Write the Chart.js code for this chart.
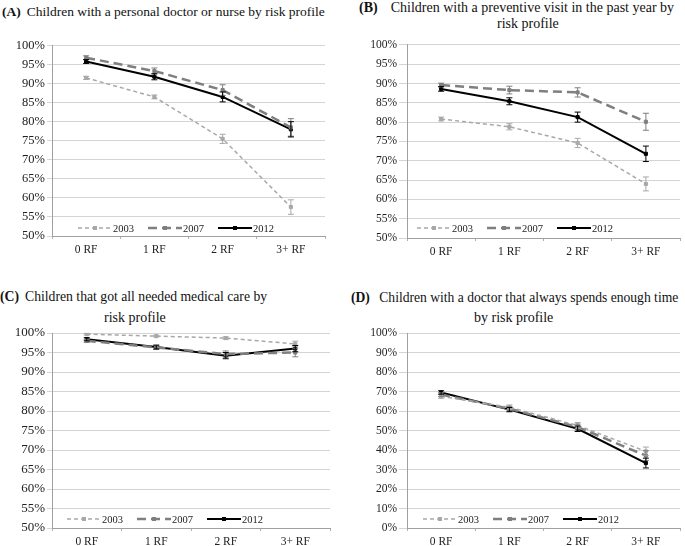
<!DOCTYPE html>
<html>
<head>
<meta charset="utf-8">
<script src="https://cdn.jsdelivr.net/npm/chart.js@4/dist/chart.umd.min.js"></script>
<style>
  body { margin: 0; background: #fff; width: 685px; height: 546px; position: relative; overflow: hidden; font-family: "Liberation Serif", serif; }
  canvas { position: absolute; }
  .title { position: absolute; font-size: 14px; color: #111; white-space: nowrap; line-height: 16px; }
  .title b { margin-right: 6px; }
</style>
</head>
<body>
<div class="title" style="left:2px; top:4px; font-size:13.5px;"><b>(A)</b>Children with a personal doctor or nurse by risk profile</div>
<div class="title" style="left:359px; top:0px;"><b>(B)</b>&nbsp;&nbsp;Children with a preventive visit in the past year by</div>
<div class="title" style="left:497px; top:16px;">risk profile</div>
<div class="title" style="left:0px; top:289px; font-size:13.7px;"><b>(C)</b>Children that got all needed medical care by</div>
<div class="title" style="left:104px; top:310px;">risk profile</div>
<div class="title" style="left:351px; top:290px; font-size:13.6px;"><b>(D)</b>&nbsp;Children with a doctor that always spends enough time</div>
<div class="title" style="left:474px; top:310px;">by risk profile</div>

<canvas id="chartA" width="335" height="225" style="left:0px; top:36px;"></canvas>
<canvas id="chartB" width="345" height="225" style="left:340px; top:36px;"></canvas>
<canvas id="chartC" width="340" height="246" style="left:0px; top:300px;"></canvas>
<canvas id="chartD" width="345" height="246" style="left:340px; top:300px;"></canvas>

<script>
// categories and series
const riskLabels = ["0 RF", "1 RF", "2 RF", "3+ RF"];
const yearLabels = ["2003", "2007", "2012"];

// (A) personal doctor or nurse
const doctorNurse2003 = [91.5, 86.5, 75.5, 57.6];
const doctorNurse2007 = [96.8, 93.3, 88.3, 78.5];
const doctorNurse2012 = [95.8, 91.8, 86.5, 78.0];
const doctorNurseErr2003 = [0.4, 0.5, 1.2, 1.9];
const doctorNurseErr2007 = [0.5, 0.8, 1.4, 2.3];
const doctorNurseErr2012 = [0.5, 0.8, 1.3, 2.0];

// (B) preventive visit
const preventive2003 = [80.8, 78.8, 74.6, 64.0];
const preventive2007 = [89.6, 88.3, 87.7, 80.1];
const preventive2012 = [88.6, 85.4, 81.3, 71.8];
const preventiveErr2003 = [0.5, 0.8, 1.2, 1.8];
const preventiveErr2007 = [0.5, 1.0, 1.2, 2.2];
const preventiveErr2012 = [0.6, 0.9, 1.3, 2.0];

// (C) all needed medical care
const neededCare2003 = [99.7, 99.2, 98.7, 97.2];
const neededCare2007 = [98.0, 96.3, 94.6, 95.0];
const neededCare2012 = [98.4, 96.4, 94.2, 96.0];
const neededCareErr2003 = [0.2, 0.2, 0.3, 0.7];
const neededCareErr2007 = [0.4, 0.5, 0.8, 1.1];
const neededCareErr2012 = [0.4, 0.5, 0.8, 0.8];

// (D) doctor spends enough time
const enoughTime2003 = [67.5, 61.9, 52.6, 39.3];
const enoughTime2007 = [68.4, 61.2, 51.8, 37.1];
const enoughTime2012 = [69.5, 60.7, 50.9, 33.3];
const enoughTimeErr2003 = [1.0, 1.2, 1.5, 2.2];
const enoughTimeErr2007 = [1.0, 1.2, 1.5, 2.5];
const enoughTimeErr2012 = [0.9, 1.1, 1.4, 2.5];

const serif = "'Liberation Serif', serif";
const seriesStyle = [
  { color: "#a8a8a8", width: 1.5, dash: [4, 3] },
  { color: "#7f7f7f", width: 2.5, dash: [9, 5] },
  { color: "#000000", width: 2, dash: [] },
];

// vertical error bars drawn through the y scale
const errorBars = {
  id: "errorBars",
  afterDatasetsDraw(chart) {
    const ctx = chart.ctx;
    const yScale = chart.scales.y;
    chart.data.datasets.forEach((ds, i) => {
      const meta = chart.getDatasetMeta(i);
      ctx.save();
      ctx.strokeStyle = ds.borderColor;
      ctx.lineWidth = 1;
      meta.data.forEach((pt, j) => {
        const e = ds.errors[j];
        const top = yScale.getPixelForValue(ds.data[j] + e);
        const bot = yScale.getPixelForValue(ds.data[j] - e);
        ctx.beginPath();
        ctx.moveTo(pt.x, top); ctx.lineTo(pt.x, bot);
        ctx.moveTo(pt.x - 3, top); ctx.lineTo(pt.x + 3, top);
        ctx.moveTo(pt.x - 3, bot); ctx.lineTo(pt.x + 3, bot);
        ctx.stroke();
      });
      ctx.restore();
    });
  },
};

// legend placed inside the plot, near the bottom
const insideLegend = {
  id: "insideLegend",
  afterDraw(chart, args, opts) {
    const ctx = chart.ctx;
    const area = chart.chartArea;
    let x = area.left + opts.x;
    const y = area.bottom - opts.y;
    ctx.save();
    ctx.font = "10.5px " + serif;
    ctx.textBaseline = "middle";
    chart.data.datasets.forEach((ds) => {
      ctx.strokeStyle = ds.borderColor;
      ctx.lineWidth = ds.borderWidth;
      ctx.setLineDash(ds.borderDash);
      ctx.beginPath();
      ctx.moveTo(x, y); ctx.lineTo(x + 34, y);
      ctx.stroke();
      ctx.setLineDash([]);
      ctx.fillStyle = ds.borderColor;
      ctx.fillRect(x + 15, y - 2, 4, 4);
      ctx.fillStyle = "#222";
      ctx.fillText(ds.label, x + 35, y + 1);
      x += 35 + ctx.measureText(ds.label).width + 14;
    });
    ctx.restore();
  },
};

function makeDatasets(values, errors) {
  return yearLabels.map((year, i) => ({
    label: year,
    data: values[i],
    errors: errors[i],
    borderColor: seriesStyle[i].color,
    backgroundColor: seriesStyle[i].color,
    borderWidth: seriesStyle[i].width,
    borderDash: seriesStyle[i].dash,
    pointStyle: "rect",
    pointRadius: 2.2,
    pointBorderWidth: 1,
    tension: 0,
  }));
}

function drawPanel(id, values, errors, p) {
  new Chart(document.getElementById(id), {
    type: "line",
    data: { labels: riskLabels, datasets: makeDatasets(values, errors) },
    options: {
      responsive: false,
      animation: false,
      devicePixelRatio: 1,
      layout: { padding: { left: 0, right: p.padRight, top: p.padTop, bottom: 0 } },
      plugins: {
        legend: { display: false },
        tooltip: { enabled: false },
        insideLegend: p.legend,
      },
      scales: {
        x: {
          offset: true,
          grid: { display: true, drawOnChartArea: false, offset: true, tickLength: 3, color: "#b0b0b0" },
          border: { color: "#a0a0a0" },
          ticks: { color: "#222", font: { family: serif, size: 11.5 }, padding: 4 },
          afterFit(scale) { scale.height = p.axisHeight; },
        },
        y: {
          min: p.yMin,
          max: 100,
          ticks: {
            stepSize: p.yStep,
            color: "#222",
            font: { family: serif, size: p.yFont },
            padding: p.tickPad,
            callback: (v) => v + "%",
          },
          grid: { color: "#d4d4d4", tickLength: p.tickLen },
          border: { color: "#a0a0a0" },
          afterFit(scale) { scale.width = p.axisWidth; },
        },
      },
    },
    plugins: [errorBars, insideLegend],
  });
}

drawPanel("chartA",
  [doctorNurse2003, doctorNurse2007, doctorNurse2012],
  [doctorNurseErr2003, doctorNurseErr2007, doctorNurseErr2012],
  { yMin: 50, yStep: 5, axisWidth: 52, axisHeight: 25, padRight: 10, padTop: 7,
    yFont: 12.5, tickLen: 5, tickPad: 2, legend: { x: 26, y: 8 } });
drawPanel("chartB",
  [preventive2003, preventive2007, preventive2012],
  [preventiveErr2003, preventiveErr2007, preventiveErr2012],
  { yMin: 50, yStep: 5, axisWidth: 67, axisHeight: 23, padRight: 0, padTop: 7,
    yFont: 11.5, tickLen: 8, tickPad: 2, legend: { x: 10, y: 10 } });
drawPanel("chartC",
  [neededCare2003, neededCare2007, neededCare2012],
  [neededCareErr2003, neededCareErr2007, neededCareErr2012],
  { yMin: 50, yStep: 5, axisWidth: 52, axisHeight: 18, padRight: 10, padTop: 33,
    yFont: 13, tickLen: 5, tickPad: 2, legend: { x: 15, y: 9 } });
drawPanel("chartD",
  [enoughTime2003, enoughTime2007, enoughTime2012],
  [enoughTimeErr2003, enoughTimeErr2007, enoughTimeErr2012],
  { yMin: 0, yStep: 10, axisWidth: 67, axisHeight: 18, padRight: 0, padTop: 33,
    yFont: 11.5, tickLen: 8, tickPad: 2, legend: { x: 16, y: 9 } });
</script>
</body>
</html>
